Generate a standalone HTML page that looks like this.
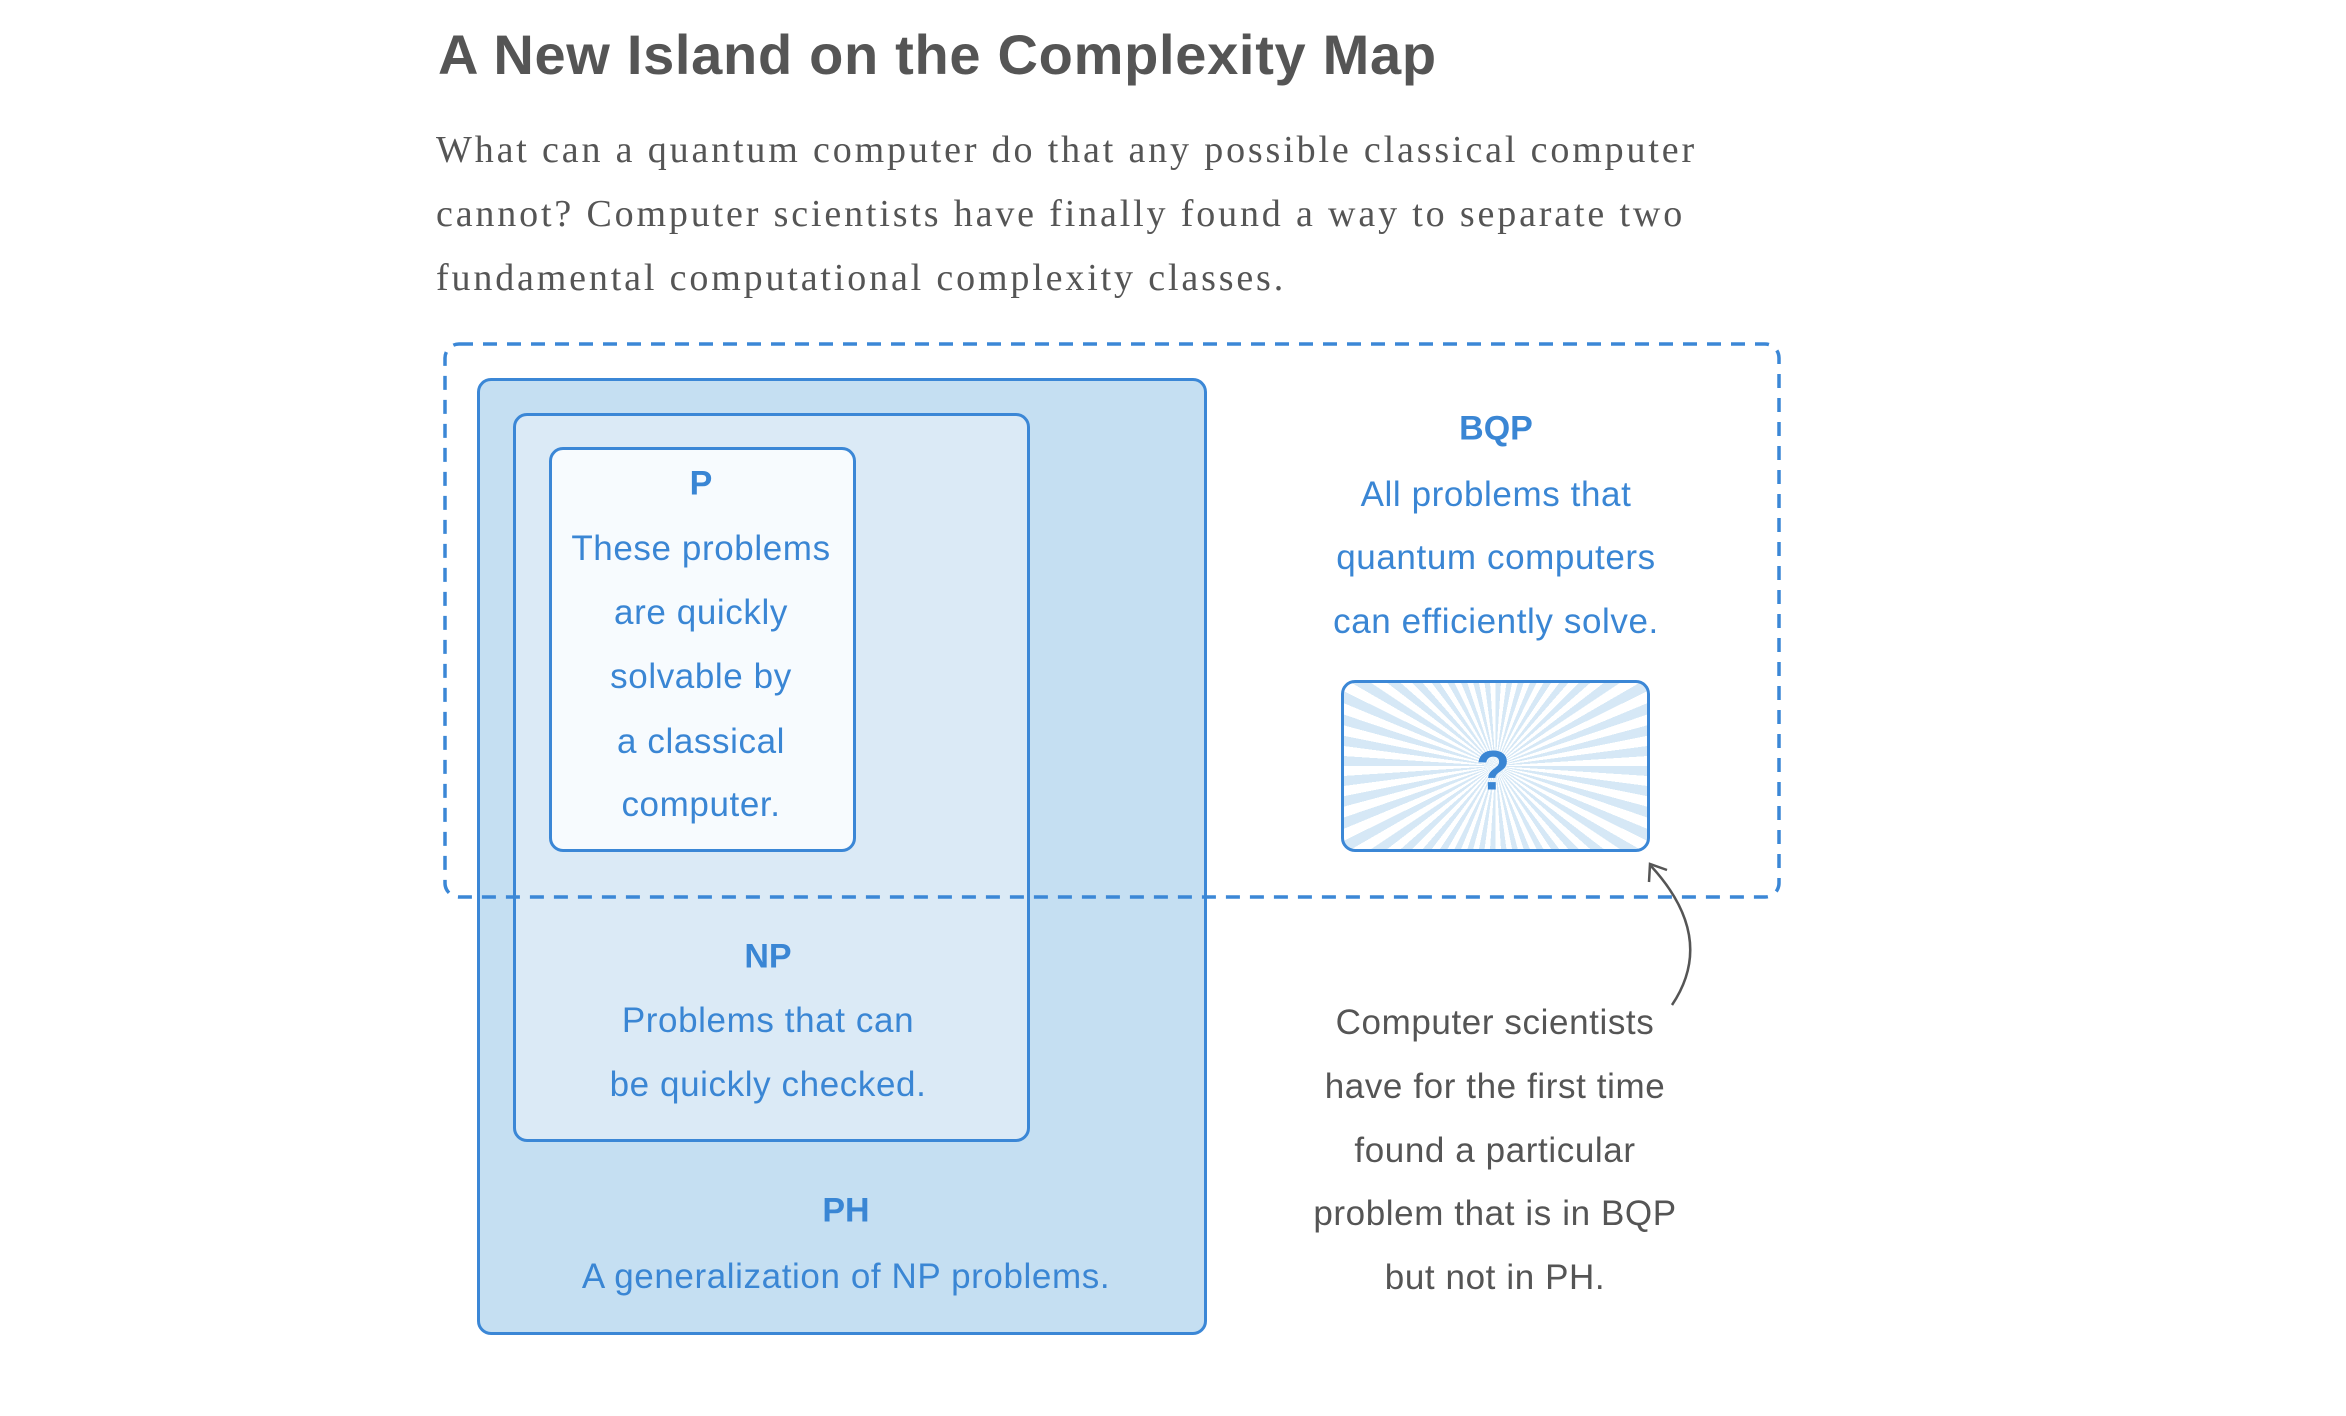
<!DOCTYPE html>
<html><head><meta charset="utf-8"><style>
body{margin:0;width:2346px;height:1416px;background:#fff;position:relative;overflow:hidden;font-family:"Liberation Sans",sans-serif}
.a{position:absolute}
.box{position:absolute;box-sizing:border-box;border:3px solid #3b87d6;border-radius:14px}
.t{position:absolute;transform:translate(-50%,-50%);white-space:nowrap;color:#3a86d4;font-size:35px;letter-spacing:0.6px}
.b{font-weight:bold;font-size:34px;letter-spacing:0}
.g{color:#555}
</style></head><body>
<div class="a" style="left:438px;top:22px;font-size:56px;font-weight:bold;color:#555;letter-spacing:0.7px">A New Island on the Complexity Map</div>
<div class="a" style="left:436px;top:118px;font-family:'Liberation Serif',serif;font-size:38px;letter-spacing:2.85px;line-height:64px;color:#555;width:1600px">What can a quantum computer do that any possible classical computer<br>cannot? Computer scientists have finally found a way to separate two<br>fundamental computational complexity classes.</div>

<div class="box" style="left:477px;top:378px;width:730px;height:957px;background:#c5dff2"></div>
<div class="box" style="left:513px;top:413px;width:517px;height:729px;background:#dbeaf6"></div>
<div class="box" style="left:549px;top:447px;width:307px;height:405px;background:#f7fbfe"></div>
<div class="box" style="left:1341px;top:680px;width:309px;height:172px;background:repeating-conic-gradient(from 0deg at 50% 50%,#d6e8f6 0deg 3.75deg,#fff 3.75deg 7.5deg)"></div>

<svg class="a" style="left:0;top:0" width="2346" height="1416">
<rect x="445" y="344" width="1334" height="553" rx="14" fill="none" stroke="#3b87d6" stroke-width="3.5" stroke-dasharray="14 10"/>
<path d="M1672,1005 Q1717,938 1651,866" fill="none" stroke="#555" stroke-width="2.5"/>
<path d="M1649,882 L1650,864 L1667,870" fill="none" stroke="#555" stroke-width="2.5"/>
</svg>

<div class="t b" style="left:701px;top:484px">P</div>
<div class="t" style="left:701px;top:549px">These problems</div>
<div class="t" style="left:701px;top:613px">are quickly</div>
<div class="t" style="left:701px;top:677px">solvable by</div>
<div class="t" style="left:701px;top:742px">a classical</div>
<div class="t" style="left:701px;top:805px">computer.</div>

<div class="t b" style="left:768px;top:957px">NP</div>
<div class="t" style="left:768px;top:1021px">Problems that can</div>
<div class="t" style="left:768px;top:1085px">be quickly checked.</div>

<div class="t b" style="left:846px;top:1211px">PH</div>
<div class="t" style="left:846px;top:1277px">A generalization of NP problems.</div>

<div class="t b" style="left:1496px;top:429px">BQP</div>
<div class="t" style="left:1496px;top:495px">All problems that</div>
<div class="t" style="left:1496px;top:558px">quantum computers</div>
<div class="t" style="left:1496px;top:622px">can efficiently solve.</div>

<div class="t b" style="left:1493px;top:770px;font-size:56px">?</div>

<div class="t g" style="left:1495px;top:1023px">Computer scientists</div>
<div class="t g" style="left:1495px;top:1087px">have for the first time</div>
<div class="t g" style="left:1495px;top:1151px">found a particular</div>
<div class="t g" style="left:1495px;top:1214px">problem that is in BQP</div>
<div class="t g" style="left:1495px;top:1278px">but not in PH.</div>
</body></html>
